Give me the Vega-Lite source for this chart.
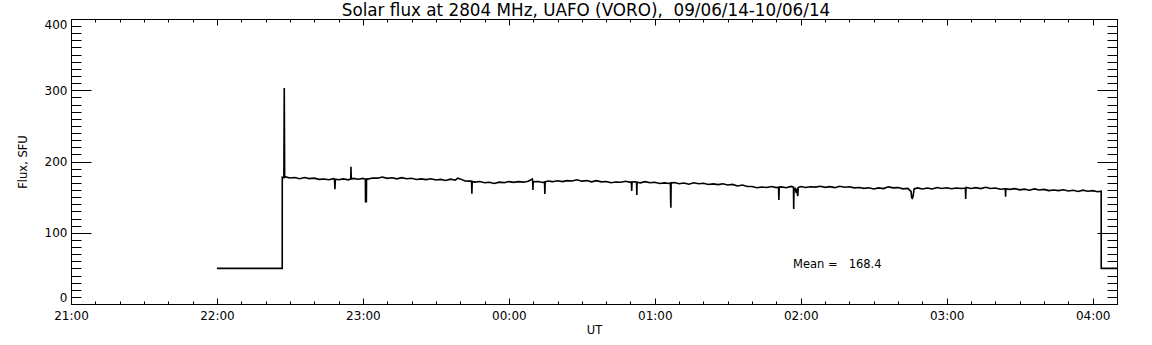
{
  "$schema": "https://vega.github.io/schema/vega-lite/v6.json",
  "autosize": {"type": "none"},
  "padding": {"left": 71, "top": 19, "right": 35, "bottom": 41},
  "width": 1046,
  "height": 285,
  "background": "white",
  "title": {"text": "Solar flux at 2804 MHz, UAFO (VORO),\u00a0 09/06/14-10/06/14", "font": "DejaVu Sans", "fontSize": 16.8, "fontWeight": "normal", "color": "black", "anchor": "middle", "offset": -2, "dx": -8},
  "datasets": {
    "flux": [
      {"t": "2014-06-09T22:00:00Z", "f": 50},
      {"t": "2014-06-09T22:26:50Z", "f": 50},
      {"t": "2014-06-09T22:26:51Z", "f": 178},
      {"t": "2014-06-09T22:27:30Z", "f": 177.5},
      {"t": "2014-06-09T22:27:40Z", "f": 303},
      {"t": "2014-06-09T22:27:50Z", "f": 178},
      {"t": "2014-06-09T22:28:00Z", "f": 178.6},
      {"t": "2014-06-09T22:30:00Z", "f": 176.8},
      {"t": "2014-06-09T22:32:00Z", "f": 177.6},
      {"t": "2014-06-09T22:34:00Z", "f": 175.9},
      {"t": "2014-06-09T22:36:00Z", "f": 177.6},
      {"t": "2014-06-09T22:38:00Z", "f": 176.0},
      {"t": "2014-06-09T22:40:00Z", "f": 176.6},
      {"t": "2014-06-09T22:42:00Z", "f": 174.9},
      {"t": "2014-06-09T22:44:00Z", "f": 175.5},
      {"t": "2014-06-09T22:46:00Z", "f": 174.5},
      {"t": "2014-06-09T22:48:00Z", "f": 175.9},
      {"t": "2014-06-09T22:48:20Z", "f": 175.2},
      {"t": "2014-06-09T22:48:30Z", "f": 161},
      {"t": "2014-06-09T22:48:40Z", "f": 175.2},
      {"t": "2014-06-09T22:50:00Z", "f": 174.4},
      {"t": "2014-06-09T22:52:00Z", "f": 175.6},
      {"t": "2014-06-09T22:54:00Z", "f": 174.3},
      {"t": "2014-06-09T22:55:00Z", "f": 175.5},
      {"t": "2014-06-09T22:55:06Z", "f": 192.7},
      {"t": "2014-06-09T22:55:12Z", "f": 175.5},
      {"t": "2014-06-09T22:56:00Z", "f": 176.3},
      {"t": "2014-06-09T22:58:00Z", "f": 175.1},
      {"t": "2014-06-09T23:00:00Z", "f": 176.3},
      {"t": "2014-06-09T23:01:00Z", "f": 175},
      {"t": "2014-06-09T23:01:05Z", "f": 143.6},
      {"t": "2014-06-09T23:01:25Z", "f": 143.6},
      {"t": "2014-06-09T23:01:30Z", "f": 175.5},
      {"t": "2014-06-09T23:02:00Z", "f": 175.3},
      {"t": "2014-06-09T23:04:00Z", "f": 176.8},
      {"t": "2014-06-09T23:06:00Z", "f": 176.6},
      {"t": "2014-06-09T23:08:00Z", "f": 178.3},
      {"t": "2014-06-09T23:10:00Z", "f": 176.4},
      {"t": "2014-06-09T23:12:00Z", "f": 177.2},
      {"t": "2014-06-09T23:14:00Z", "f": 175.6},
      {"t": "2014-06-09T23:16:00Z", "f": 177.3},
      {"t": "2014-06-09T23:18:00Z", "f": 175.7},
      {"t": "2014-06-09T23:20:00Z", "f": 176.4},
      {"t": "2014-06-09T23:22:00Z", "f": 174.8},
      {"t": "2014-06-09T23:24:00Z", "f": 175.6},
      {"t": "2014-06-09T23:26:00Z", "f": 174.6},
      {"t": "2014-06-09T23:28:00Z", "f": 175.7},
      {"t": "2014-06-09T23:30:00Z", "f": 174.0},
      {"t": "2014-06-09T23:32:00Z", "f": 174.9},
      {"t": "2014-06-09T23:34:00Z", "f": 173.3},
      {"t": "2014-06-09T23:36:00Z", "f": 175.2},
      {"t": "2014-06-09T23:38:00Z", "f": 173.7},
      {"t": "2014-06-09T23:39:00Z", "f": 176.5},
      {"t": "2014-06-09T23:40:00Z", "f": 175.6},
      {"t": "2014-06-09T23:42:00Z", "f": 172.7},
      {"t": "2014-06-09T23:44:00Z", "f": 172.5},
      {"t": "2014-06-09T23:44:40Z", "f": 172.2},
      {"t": "2014-06-09T23:44:48Z", "f": 154.8},
      {"t": "2014-06-09T23:44:56Z", "f": 172.0},
      {"t": "2014-06-09T23:46:00Z", "f": 171.1},
      {"t": "2014-06-09T23:48:00Z", "f": 172.0},
      {"t": "2014-06-09T23:50:00Z", "f": 170.2},
      {"t": "2014-06-09T23:52:00Z", "f": 170.9},
      {"t": "2014-06-09T23:54:00Z", "f": 169.2},
      {"t": "2014-06-09T23:56:00Z", "f": 171.0},
      {"t": "2014-06-09T23:58:00Z", "f": 170.3},
      {"t": "2014-06-10T00:00:00Z", "f": 171.8},
      {"t": "2014-06-10T00:02:00Z", "f": 170.7},
      {"t": "2014-06-10T00:04:00Z", "f": 171.7},
      {"t": "2014-06-10T00:06:00Z", "f": 171.0},
      {"t": "2014-06-10T00:08:00Z", "f": 172.3},
      {"t": "2014-06-10T00:09:40Z", "f": 175.5},
      {"t": "2014-06-10T00:09:48Z", "f": 171.5},
      {"t": "2014-06-10T00:09:54Z", "f": 160},
      {"t": "2014-06-10T00:10:00Z", "f": 171.5},
      {"t": "2014-06-10T00:12:00Z", "f": 171.9},
      {"t": "2014-06-10T00:14:00Z", "f": 170.5},
      {"t": "2014-06-10T00:14:40Z", "f": 171.3},
      {"t": "2014-06-10T00:14:48Z", "f": 154.4},
      {"t": "2014-06-10T00:14:56Z", "f": 171.3},
      {"t": "2014-06-10T00:16:00Z", "f": 172.7},
      {"t": "2014-06-10T00:18:00Z", "f": 171.7},
      {"t": "2014-06-10T00:20:00Z", "f": 172.9},
      {"t": "2014-06-10T00:22:00Z", "f": 171.8},
      {"t": "2014-06-10T00:24:00Z", "f": 173.1},
      {"t": "2014-06-10T00:26:00Z", "f": 172.7},
      {"t": "2014-06-10T00:28:00Z", "f": 174.3},
      {"t": "2014-06-10T00:30:00Z", "f": 172.4},
      {"t": "2014-06-10T00:32:00Z", "f": 173.2},
      {"t": "2014-06-10T00:34:00Z", "f": 171.4},
      {"t": "2014-06-10T00:36:00Z", "f": 173.1},
      {"t": "2014-06-10T00:38:00Z", "f": 171.4},
      {"t": "2014-06-10T00:40:00Z", "f": 172.0},
      {"t": "2014-06-10T00:42:00Z", "f": 170.2},
      {"t": "2014-06-10T00:44:00Z", "f": 171.3},
      {"t": "2014-06-10T00:46:00Z", "f": 170.8},
      {"t": "2014-06-10T00:48:00Z", "f": 172.2},
      {"t": "2014-06-10T00:50:00Z", "f": 170.7},
      {"t": "2014-06-10T00:50:22Z", "f": 171.3},
      {"t": "2014-06-10T00:50:30Z", "f": 158.6},
      {"t": "2014-06-10T00:50:38Z", "f": 171.2},
      {"t": "2014-06-10T00:52:00Z", "f": 171.6},
      {"t": "2014-06-10T00:52:30Z", "f": 171.0},
      {"t": "2014-06-10T00:52:36Z", "f": 153},
      {"t": "2014-06-10T00:52:42Z", "f": 171.0},
      {"t": "2014-06-10T00:54:00Z", "f": 170.0},
      {"t": "2014-06-10T00:56:00Z", "f": 171.7},
      {"t": "2014-06-10T00:58:00Z", "f": 170.2},
      {"t": "2014-06-10T01:00:00Z", "f": 170.8},
      {"t": "2014-06-10T01:02:00Z", "f": 169.2},
      {"t": "2014-06-10T01:04:00Z", "f": 170.0},
      {"t": "2014-06-10T01:06:00Z", "f": 169.2},
      {"t": "2014-06-10T01:06:26Z", "f": 169.8},
      {"t": "2014-06-10T01:06:30Z", "f": 147},
      {"t": "2014-06-10T01:06:36Z", "f": 135},
      {"t": "2014-06-10T01:06:42Z", "f": 169.8},
      {"t": "2014-06-10T01:08:00Z", "f": 170.4},
      {"t": "2014-06-10T01:10:00Z", "f": 168.8},
      {"t": "2014-06-10T01:12:00Z", "f": 169.8},
      {"t": "2014-06-10T01:14:00Z", "f": 168.2},
      {"t": "2014-06-10T01:16:00Z", "f": 170.1},
      {"t": "2014-06-10T01:18:00Z", "f": 168.7},
      {"t": "2014-06-10T01:20:00Z", "f": 169.4},
      {"t": "2014-06-10T01:22:00Z", "f": 167.8},
      {"t": "2014-06-10T01:24:00Z", "f": 168.6},
      {"t": "2014-06-10T01:26:00Z", "f": 167.6},
      {"t": "2014-06-10T01:28:00Z", "f": 168.7},
      {"t": "2014-06-10T01:30:00Z", "f": 167.0},
      {"t": "2014-06-10T01:32:00Z", "f": 167.9},
      {"t": "2014-06-10T01:34:00Z", "f": 165.7},
      {"t": "2014-06-10T01:36:00Z", "f": 167.0},
      {"t": "2014-06-10T01:38:00Z", "f": 164.9},
      {"t": "2014-06-10T01:40:00Z", "f": 165.0},
      {"t": "2014-06-10T01:42:00Z", "f": 163.2},
      {"t": "2014-06-10T01:44:00Z", "f": 164.2},
      {"t": "2014-06-10T01:46:00Z", "f": 163.5},
      {"t": "2014-06-10T01:48:00Z", "f": 164.8},
      {"t": "2014-06-10T01:50:00Z", "f": 163.3},
      {"t": "2014-06-10T01:50:52Z", "f": 164},
      {"t": "2014-06-10T01:51:00Z", "f": 146},
      {"t": "2014-06-10T01:51:08Z", "f": 164},
      {"t": "2014-06-10T01:52:00Z", "f": 164.4},
      {"t": "2014-06-10T01:54:00Z", "f": 163.1},
      {"t": "2014-06-10T01:56:00Z", "f": 165.1},
      {"t": "2014-06-10T01:57:00Z", "f": 164},
      {"t": "2014-06-10T01:57:06Z", "f": 133.3},
      {"t": "2014-06-10T01:57:12Z", "f": 160},
      {"t": "2014-06-10T01:57:40Z", "f": 162},
      {"t": "2014-06-10T01:58:00Z", "f": 158},
      {"t": "2014-06-10T01:58:20Z", "f": 160},
      {"t": "2014-06-10T01:58:48Z", "f": 151.6},
      {"t": "2014-06-10T01:58:56Z", "f": 163.5},
      {"t": "2014-06-10T02:00:00Z", "f": 164.9},
      {"t": "2014-06-10T02:02:00Z", "f": 163.6},
      {"t": "2014-06-10T02:04:00Z", "f": 164.6},
      {"t": "2014-06-10T02:06:00Z", "f": 164.0},
      {"t": "2014-06-10T02:08:00Z", "f": 165.2},
      {"t": "2014-06-10T02:10:00Z", "f": 163.7},
      {"t": "2014-06-10T02:12:00Z", "f": 164.7},
      {"t": "2014-06-10T02:14:00Z", "f": 163.3},
      {"t": "2014-06-10T02:16:00Z", "f": 165.2},
      {"t": "2014-06-10T02:18:00Z", "f": 163.8},
      {"t": "2014-06-10T02:20:00Z", "f": 164.6},
      {"t": "2014-06-10T02:22:00Z", "f": 163.0},
      {"t": "2014-06-10T02:24:00Z", "f": 163.5},
      {"t": "2014-06-10T02:26:00Z", "f": 162.3},
      {"t": "2014-06-10T02:28:00Z", "f": 163.1},
      {"t": "2014-06-10T02:30:00Z", "f": 161.5},
      {"t": "2014-06-10T02:32:00Z", "f": 163.0},
      {"t": "2014-06-10T02:34:00Z", "f": 162.0},
      {"t": "2014-06-10T02:36:00Z", "f": 164.4},
      {"t": "2014-06-10T02:38:00Z", "f": 163.0},
      {"t": "2014-06-10T02:40:00Z", "f": 163.4},
      {"t": "2014-06-10T02:42:00Z", "f": 161.6},
      {"t": "2014-06-10T02:44:00Z", "f": 162.2},
      {"t": "2014-06-10T02:45:20Z", "f": 158},
      {"t": "2014-06-10T02:45:36Z", "f": 149},
      {"t": "2014-06-10T02:45:50Z", "f": 148.3},
      {"t": "2014-06-10T02:46:05Z", "f": 150},
      {"t": "2014-06-10T02:46:20Z", "f": 155},
      {"t": "2014-06-10T02:46:36Z", "f": 161.5},
      {"t": "2014-06-10T02:48:00Z", "f": 163.0},
      {"t": "2014-06-10T02:50:00Z", "f": 161.5},
      {"t": "2014-06-10T02:52:00Z", "f": 162.7},
      {"t": "2014-06-10T02:54:00Z", "f": 161.4},
      {"t": "2014-06-10T02:56:00Z", "f": 163.5},
      {"t": "2014-06-10T02:58:00Z", "f": 162.2},
      {"t": "2014-06-10T03:00:00Z", "f": 163.2},
      {"t": "2014-06-10T03:02:00Z", "f": 161.8},
      {"t": "2014-06-10T03:04:00Z", "f": 162.9},
      {"t": "2014-06-10T03:06:00Z", "f": 162.2},
      {"t": "2014-06-10T03:07:40Z", "f": 162.7},
      {"t": "2014-06-10T03:07:48Z", "f": 147.4},
      {"t": "2014-06-10T03:07:56Z", "f": 162.7},
      {"t": "2014-06-10T03:08:00Z", "f": 163.6},
      {"t": "2014-06-10T03:10:00Z", "f": 162.1},
      {"t": "2014-06-10T03:12:00Z", "f": 163.3},
      {"t": "2014-06-10T03:14:00Z", "f": 162.0},
      {"t": "2014-06-10T03:16:00Z", "f": 163.8},
      {"t": "2014-06-10T03:18:00Z", "f": 162.2},
      {"t": "2014-06-10T03:20:00Z", "f": 162.8},
      {"t": "2014-06-10T03:22:00Z", "f": 161.1},
      {"t": "2014-06-10T03:24:00Z", "f": 161.8},
      {"t": "2014-06-10T03:24:06Z", "f": 161.5},
      {"t": "2014-06-10T03:24:12Z", "f": 150.6},
      {"t": "2014-06-10T03:24:18Z", "f": 161.5},
      {"t": "2014-06-10T03:26:00Z", "f": 160.9},
      {"t": "2014-06-10T03:28:00Z", "f": 161.9},
      {"t": "2014-06-10T03:30:00Z", "f": 160.2},
      {"t": "2014-06-10T03:32:00Z", "f": 161.2},
      {"t": "2014-06-10T03:34:00Z", "f": 159.6},
      {"t": "2014-06-10T03:36:00Z", "f": 161.5},
      {"t": "2014-06-10T03:38:00Z", "f": 160.0},
      {"t": "2014-06-10T03:40:00Z", "f": 160.8},
      {"t": "2014-06-10T03:42:00Z", "f": 159.2},
      {"t": "2014-06-10T03:44:00Z", "f": 160.0},
      {"t": "2014-06-10T03:46:00Z", "f": 159.1},
      {"t": "2014-06-10T03:48:00Z", "f": 160.3},
      {"t": "2014-06-10T03:50:00Z", "f": 158.6},
      {"t": "2014-06-10T03:52:00Z", "f": 159.6},
      {"t": "2014-06-10T03:54:00Z", "f": 158.0},
      {"t": "2014-06-10T03:56:00Z", "f": 159.8},
      {"t": "2014-06-10T03:58:00Z", "f": 158.3},
      {"t": "2014-06-10T04:00:00Z", "f": 159.1},
      {"t": "2014-06-10T04:02:00Z", "f": 157.5},
      {"t": "2014-06-10T04:03:30Z", "f": 158.2},
      {"t": "2014-06-10T04:03:31Z", "f": 50},
      {"t": "2014-06-10T04:12:00Z", "f": 50}
    ],
    "meanlabel": [
      {"t": "2014-06-10T01:56:50Z", "f": 50, "label": "Mean =\u00a0\u00a0\u00a0168.4"}
    ]
  },
  "layer": [
    {
      "data": {"name": "flux"},
      "mark": {"type": "line", "color": "black", "strokeWidth": 1.6, "clip": true},
      "encoding": {
        "x": {
          "field": "t", "type": "temporal",
          "scale": {"type": "utc", "nice": false, "domain": [1402347600000, 1402373400000]},
          "axis": {
            "orient": "bottom", "title": "UT",
            "values": [1402347600000, 1402351200000, 1402354800000, 1402358400000, 1402362000000, 1402365600000, 1402369200000, 1402372800000],
            "format": "%H:%M",
            "tickSize": -6,
            "labelPadding": 12, "titlePadding": 3, "labelFlush": false, "labelOverlap": false
          }
        },
        "y": {
          "field": "f", "type": "quantitative",
          "scale": {"domain": [0, 400], "nice": false, "zero": false},
          "axis": {
            "orient": "left", "title": "Flux, SFU",
            "values": [0, 100, 200, 300, 400],
            "tickSize": -20,
            "labelPadding": 24, "titlePadding": 16, "labelFlush": true, "labelOverlap": false
          }
        }
      }
    },
    {
      "data": {"name": "meanlabel"},
      "mark": {"type": "text", "color": "black", "font": "DejaVu Sans", "fontSize": 11.5, "align": "left", "baseline": "alphabetic"},
      "encoding": {
        "x": {
          "field": "t", "type": "temporal",
          "axis": {
            "orient": "top", "title": null, "labels": false,
            "values": [1402347600000, 1402351200000, 1402354800000, 1402358400000, 1402362000000, 1402365600000, 1402369200000, 1402372800000],
            "tickSize": -6
          }
        },
        "y": {
          "field": "f", "type": "quantitative",
          "axis": {
            "orient": "right", "title": null, "labels": false,
            "values": [0, 100, 200, 300, 400],
            "tickSize": -20
          }
        },
        "text": {"field": "label"}
      }
    },
    {
      "data": {"name": "meanlabel"},
      "mark": {"type": "point", "opacity": 0},
      "encoding": {
        "x": {
          "field": "t", "type": "temporal",
          "axis": {
            "orient": "bottom", "title": null, "labels": false, "domain": false,
            "values": [1402347600000, 1402348200000, 1402348800000, 1402349400000, 1402350000000, 1402350600000, 1402351200000, 1402351800000, 1402352400000, 1402353000000, 1402353600000, 1402354200000, 1402354800000, 1402355400000, 1402356000000, 1402356600000, 1402357200000, 1402357800000, 1402358400000, 1402359000000, 1402359600000, 1402360200000, 1402360800000, 1402361400000, 1402362000000, 1402362600000, 1402363200000, 1402363800000, 1402364400000, 1402365000000, 1402365600000, 1402366200000, 1402366800000, 1402367400000, 1402368000000, 1402368600000, 1402369200000, 1402369800000, 1402370400000, 1402371000000, 1402371600000, 1402372200000, 1402372800000, 1402373400000],
            "tickSize": -3
          }
        },
        "y": {
          "field": "f", "type": "quantitative",
          "axis": {
            "orient": "left", "title": null, "labels": false, "domain": false,
            "values": [0,10,20,30,40,50,60,70,80,90,100,110,120,130,140,150,160,170,180,190,200,210,220,230,240,250,260,270,280,290,300,310,320,330,340,350,360,370,380,390,400],
            "tickSize": -10
          }
        }
      }
    },
    {
      "data": {"name": "meanlabel"},
      "mark": {"type": "point", "opacity": 0},
      "encoding": {
        "x": {
          "field": "t", "type": "temporal",
          "axis": {
            "orient": "top", "title": null, "labels": false, "domain": false,
            "values": [1402347600000, 1402348200000, 1402348800000, 1402349400000, 1402350000000, 1402350600000, 1402351200000, 1402351800000, 1402352400000, 1402353000000, 1402353600000, 1402354200000, 1402354800000, 1402355400000, 1402356000000, 1402356600000, 1402357200000, 1402357800000, 1402358400000, 1402359000000, 1402359600000, 1402360200000, 1402360800000, 1402361400000, 1402362000000, 1402362600000, 1402363200000, 1402363800000, 1402364400000, 1402365000000, 1402365600000, 1402366200000, 1402366800000, 1402367400000, 1402368000000, 1402368600000, 1402369200000, 1402369800000, 1402370400000, 1402371000000, 1402371600000, 1402372200000, 1402372800000, 1402373400000],
            "tickSize": -3
          }
        },
        "y": {
          "field": "f", "type": "quantitative",
          "axis": {
            "orient": "right", "title": null, "labels": false, "domain": false,
            "values": [0,10,20,30,40,50,60,70,80,90,100,110,120,130,140,150,160,170,180,190,200,210,220,230,240,250,260,270,280,290,300,310,320,330,340,350,360,370,380,390,400],
            "tickSize": -10
          }
        }
      }
    }
  ],
  "resolve": {"axis": {"x": "independent", "y": "independent"}},
  "config": {
    "view": {"stroke": null},
    "font": "DejaVu Sans",
    "axis": {
      "grid": false,
      "domainColor": "black", "domainWidth": 1,
      "tickColor": "black", "tickWidth": 1,
      "labelColor": "black", "labelFont": "DejaVu Sans", "labelFontSize": 12,
      "titleColor": "black", "titleFont": "DejaVu Sans", "titleFontSize": 11.5, "titleFontWeight": "normal"
    }
  }
}
